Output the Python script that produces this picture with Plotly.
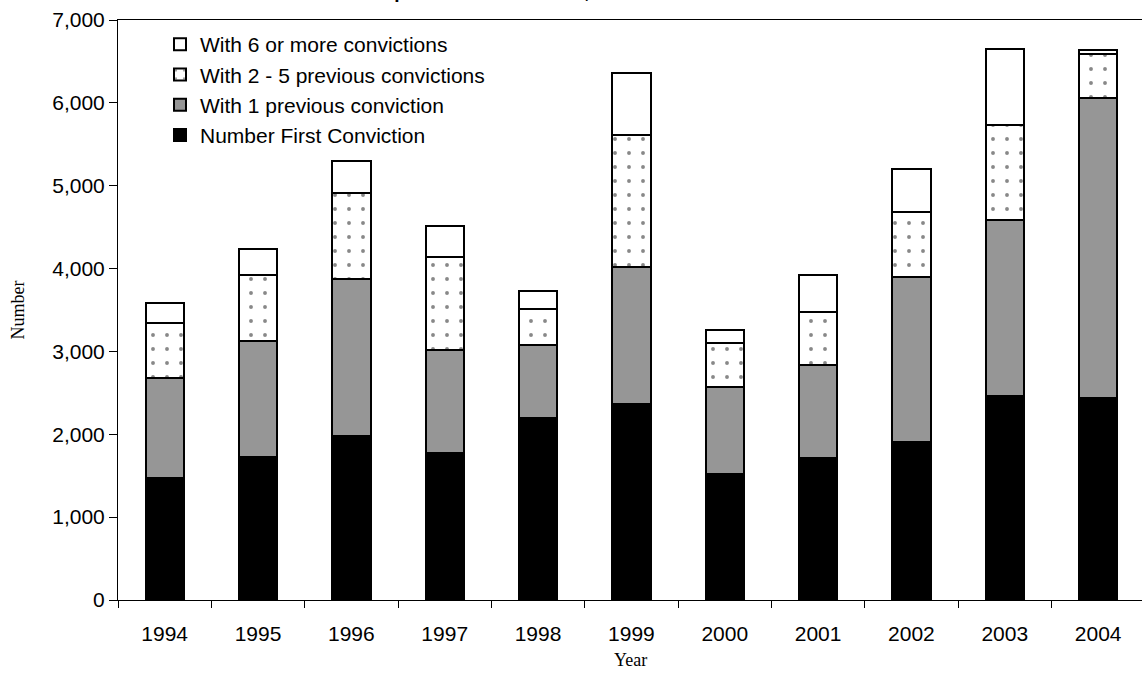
import plotly.graph_objects as go

years = ["1994", "1995", "1996", "1997", "1998", "1999", "2000", "2001", "2002", "2003", "2004"]
first_conviction = [1469, 1730, 1983, 1770, 2200, 2360, 1524, 1710, 1903, 2466, 2434]
one_previous = [1210, 1396, 1897, 1247, 877, 1663, 1042, 1126, 1999, 2120, 3624]
two_to_five = [664, 794, 1036, 1122, 439, 1589, 532, 640, 785, 1147, 528]
six_or_more = [245, 316, 382, 378, 217, 745, 160, 442, 514, 912, 52]

title_text = "Offenders with previous convictions, 1994 - 2004"

FONT = "Liberation Sans, Arial, sans-serif"
SERIF = "Liberation Serif, Times New Roman, serif"

fig = go.Figure()
line = dict(color="black", width=2)
bw = 0.41

fig.add_trace(go.Bar(x=years, y=first_conviction, name="Number First Conviction",
                     marker=dict(color="black", line=line), width=bw,
                     legendgroup="a", legendrank=4))
fig.add_trace(go.Bar(x=years, y=one_previous, name="With 1 previous conviction",
                     marker=dict(color="#969696", line=line), width=bw,
                     legendgroup="b", legendrank=3))
fig.add_trace(go.Bar(x=years, y=two_to_five, name="With 2 - 5 previous convictions",
                     marker=dict(color="white", line=line,
                                 pattern=dict(shape=".", fgcolor="#111111", bgcolor="white",
                                              size=14, solidity=0.06)),
                     width=bw, legendgroup="c", legendrank=2))
fig.add_trace(go.Bar(x=years, y=six_or_more, name="With 6 or more convictions",
                     marker=dict(color="white", line=line), width=bw,
                     legendgroup="d", legendrank=1))

fig.update_layout(
    barmode="stack",
    width=1142, height=684,
    margin=dict(l=118, r=0, t=20, b=84),
    paper_bgcolor="white", plot_bgcolor="white",
    font=dict(family=FONT, size=21, color="black"),
    showlegend=True,
    legend=dict(x=(160 - 118) / 1024, y=1 - 4 / 580, xanchor="left", yanchor="top",
                traceorder="grouped", tracegroupgap=0,
                font=dict(family=FONT, size=21), bgcolor="rgba(0,0,0,0)"),
    xaxis=dict(type="category", range=[-0.5, 10.47], showline=True, linecolor="black",
               linewidth=1, mirror=True, ticks="outside", tickson="boundaries",
               ticklen=7, tickcolor="black", showgrid=False, ticklabelstandoff=15,
               tickfont=dict(family=FONT, size=21)),
    yaxis=dict(range=[0, 7000], dtick=1000, tickformat=",", showline=True, linecolor="black",
               linewidth=1, ticks="outside", ticklen=8, tickcolor="black", showgrid=False,
               zeroline=False,
               title=dict(text="Number", font=dict(family=SERIF, size=18), standoff=22),
               tickfont=dict(family=FONT, size=21)),
    annotations=[
        dict(text="<b>" + title_text + "</b>", xref="paper", yref="paper",
             x=(254 - 118) / 1024, y=1.0484, xanchor="left", yanchor="middle",
             showarrow=False, font=dict(family=FONT, size=19)),
        dict(text="Year", xref="paper", yref="paper",
             x=0.5, y=-(660 - 600) / 580, xanchor="center", yanchor="middle",
             showarrow=False, font=dict(family=SERIF, size=18)),
    ],
)

fig.write_html("out.html", config={"displayModeBar": False},
               post_script="document.body.style.margin='0px';")
